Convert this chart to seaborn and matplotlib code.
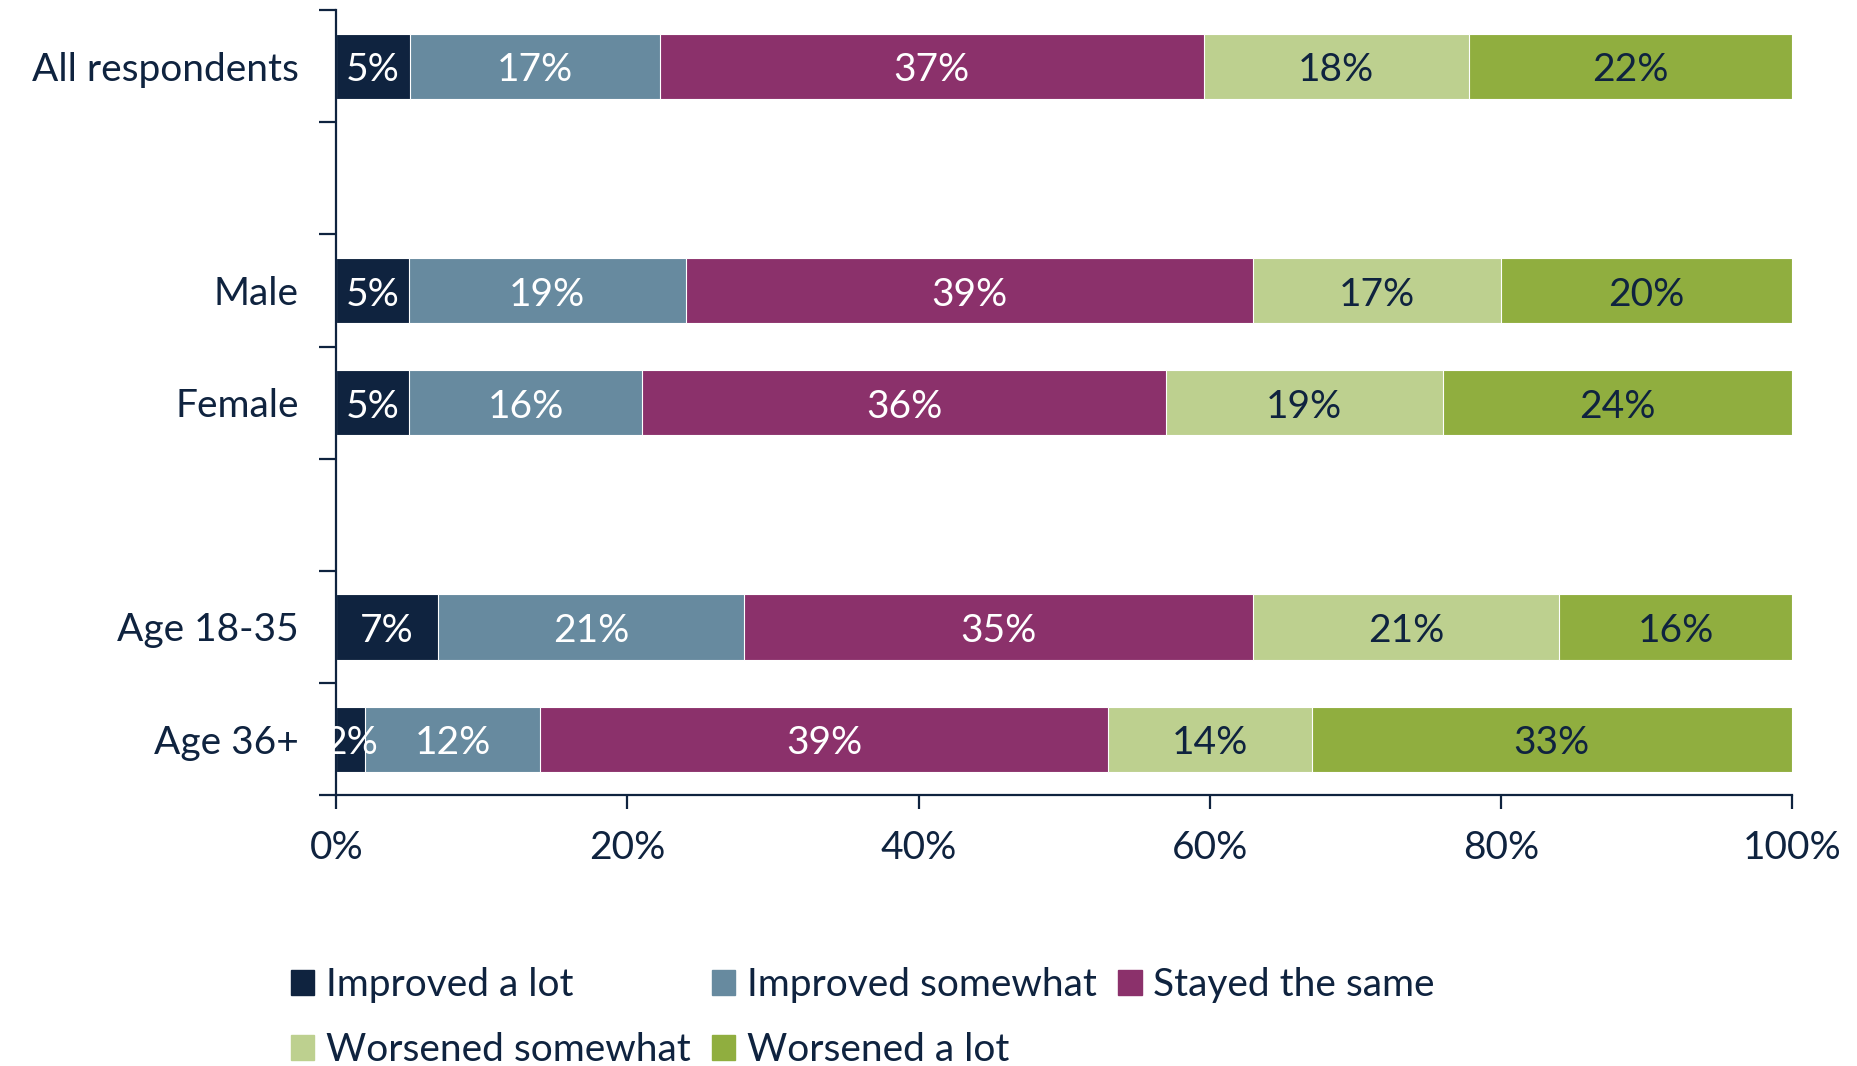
import numpy as np
import pandas as pd
import matplotlib
matplotlib.use("Agg")
import matplotlib.pyplot as plt
import matplotlib.transforms as mtransforms
import seaborn as sns
from matplotlib.patches import Patch

# datos (porcentajes por grupo)
grupos = ["All respondents", "Male", "Female", "Age 18-35", "Age 36+"]
orden = ["All respondents", " ", "Male", "Female", "  ", "Age 18-35", "Age 36+"]
respuestas = ["Improved a lot", "Improved somewhat", "Stayed the same",
              "Worsened somewhat", "Worsened a lot"]
improved_lot = [5, 5, 5, 7, 2]
improved_some = [17, 19, 16, 21, 12]
stayed = [37, 39, 36, 35, 39]
worsened_some = [18, 17, 19, 21, 14]
worsened_lot = [22, 20, 24, 16, 33]

colores = ["#0F233F", "#678A9F", "#8B316B", "#BDD08F", "#90AE3F"]
color_texto = ["white", "white", "white", "#0F233F", "#0F233F"]
navy = "#0F233F"
fs = 28

valores = np.array([improved_lot, improved_some, stayed, worsened_some, worsened_lot], dtype=float)
# normalizamos cada barra a 100%
escalados = valores / valores.sum(axis=0) * 100
acumulados = np.cumsum(escalados, axis=0)

sns.set_style("ticks")
plt.rcParams["font.family"] = ["Lato", "DejaVu Sans"]
plt.rcParams["text.color"] = navy
plt.rcParams["axes.edgecolor"] = navy
plt.rcParams["xtick.color"] = navy
plt.rcParams["ytick.color"] = navy
plt.rcParams["axes.labelcolor"] = navy

fig = plt.figure(figsize=(18.58, 10.66), dpi=100)
ax = fig.add_axes([0.181, 0.254, 0.7835, 0.7366])

# barras apiladas: dibujamos los acumulados de mayor a menor
for i in reversed(range(len(respuestas))):
    df = pd.DataFrame({"grupo": grupos, "acum": acumulados[i]})
    sns.barplot(data=df, x="acum", y="grupo", order=orden, orient="h",
                color=colores[i], saturation=1, width=0.58,
                edgecolor="white", linewidth=0.8, ax=ax)

# etiquetas dentro de cada segmento (un poco mas abajo del centro)
bajar = ax.transData + mtransforms.ScaledTranslation(0, -3 / 72, fig.dpi_scale_trans)
for i in range(len(respuestas)):
    for j, g in enumerate(grupos):
        pos = orden.index(g)
        centro = acumulados[i][j] - escalados[i][j] / 2
        ax.text(centro, pos, str(int(valores[i][j])) + "%", ha="center", va="center",
                color=color_texto[i], fontsize=fs, transform=bajar)

ax.set_xlim(0, 100)
ax.set_ylim(6.5, -0.5)
ax.set_xticks([0, 20, 40, 60, 80, 100])
ax.set_xticklabels(["0%", "20%", "40%", "60%", "80%", "100%"])
ax.set_xlabel("")
ax.set_ylabel("")
ax.set_yticks(range(len(orden)))
ax.set_yticklabels(orden)
ax.set_yticks(np.arange(-0.5, 7, 1), minor=True)
ax.tick_params(axis="y", which="major", length=0, pad=27, labelsize=fs)
ax.tick_params(axis="y", which="minor", length=12, width=1.6)
ax.tick_params(axis="x", length=10, width=1.6, pad=15, labelsize=fs)
sns.despine(ax=ax)
ax.spines["left"].set_linewidth(1.6)
ax.spines["bottom"].set_linewidth(1.6)

# leyenda en dos filas
handles = [Patch(color=c) for c in colores]
idx = [0, 3, 1, 4, 2]
fig.legend([handles[k] for k in idx], [respuestas[k] for k in idx], ncol=3,
           loc="upper left", bbox_to_anchor=(0.1565, 0.093), frameon=False,
           fontsize=fs, handlelength=0.6, handleheight=0.6, handletextpad=0.3,
           columnspacing=0.55, labelspacing=0.76, borderpad=0, borderaxespad=0)

plt.savefig("out.png", dpi=100)
